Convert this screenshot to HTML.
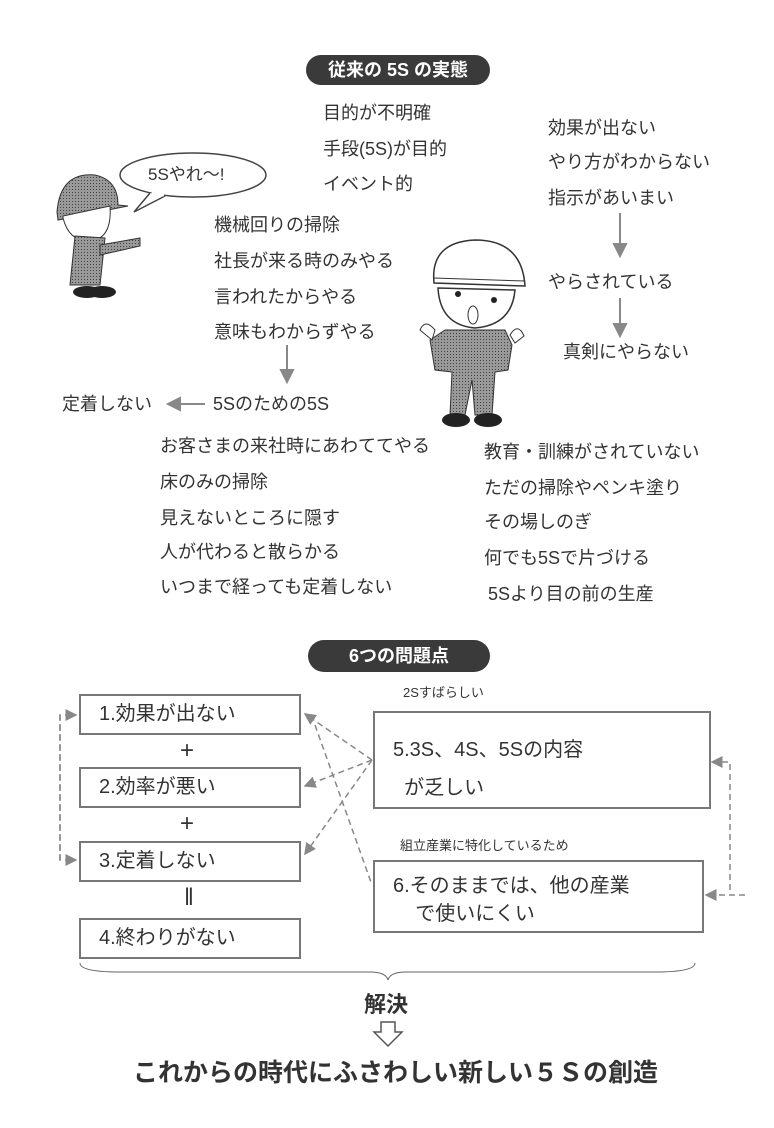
<!DOCTYPE html>
<html><head><meta charset="utf-8"><style>
body{margin:0;width:774px;height:1128px;background:#fff;position:relative;overflow:hidden;font-family:"Liberation Sans","Noto Sans CJK JP",sans-serif;color:#333}
.t{position:absolute;font-size:18px;white-space:nowrap;line-height:1}
.pill{position:absolute;background:#3a3a3a;color:#fff;border-radius:16px;text-align:center;font-size:18px;font-weight:bold}
.box{position:absolute;border:2px solid #777;box-sizing:border-box;font-size:20px}
.s{position:absolute;font-size:13px;white-space:nowrap}
</style></head><body>
<svg width="774" height="1128" style="position:absolute;left:0;top:0">
<defs><marker id="a" markerWidth="8" markerHeight="8" refX="7" refY="4" orient="auto"><path d="M0,0L8,4L0,8z" fill="#888"/></marker>
<pattern id="g" width="3" height="3" patternUnits="userSpaceOnUse"><rect width="3" height="3" fill="#999"/><rect width="1" height="1" fill="#444"/></pattern></defs>
<g stroke="#888" stroke-width="2" fill="#888">
<line x1="620" y1="213" x2="620" y2="246"/><path d="M614,244L626,244L620,256z"/>
<line x1="620" y1="298" x2="620" y2="326"/><path d="M614,324L626,324L620,336z"/>
<line x1="287" y1="345" x2="287" y2="372"/><path d="M281,370L293,370L287,382z"/>
<line x1="205" y1="404" x2="178" y2="404"/><path d="M180,398L180,410L168,404z"/>
</g>
<!-- left person -->
<ellipse cx="193" cy="175" rx="73" ry="22" fill="#fff" stroke="#444" stroke-width="1.5"/>
<path d="M150,193 L134,212 L165,196" fill="#fff" stroke="#444" stroke-width="1.5"/>
<path d="M152,192 L164,195" stroke="#fff" stroke-width="3"/>
<path d="M57,212 Q60,172 95,175 Q118,180 118,205 L128,206 L58,220z" fill="url(#g)" stroke="#333"/>
<path d="M63,218 Q70,245 95,240 Q112,235 110,206 L63,216z" fill="#fff" stroke="#333"/>
<path d="M75,236 L70,285 L100,285 L105,238z" fill="url(#g)" stroke="#333"/>
<path d="M100,245 L140,238 L140,246 L100,255z" fill="url(#g)" stroke="#333"/>
<ellipse cx="87" cy="292" rx="14" ry="6" fill="#222"/><ellipse cx="102" cy="292" rx="14" ry="6" fill="#222"/>
<!-- right person -->
<path d="M434,283 Q430,242 475,240 Q522,240 525,286z" fill="#fff" stroke="#333" stroke-width="1.5"/>
<line x1="434" y1="278" x2="525" y2="281" stroke="#333"/>
<path d="M438,288 Q440,325 475,328 Q512,325 515,290z" fill="#fff" stroke="#333" stroke-width="1.5"/>
<circle cx="458" cy="294" r="3" fill="#222"/><circle cx="494" cy="300" r="3" fill="#222"/>
<ellipse cx="473" cy="315" rx="5" ry="9" fill="#fff" stroke="#333"/>
<path d="M430,340 L445,330 L505,330 L512,345 L508,370 L495,372 L492,415 L475,415 L472,380 L465,415 L450,415 L452,372 L435,370z" fill="url(#g)" stroke="#333"/>
<path d="M420,330 Q425,318 435,330 L432,340z M510,335 Q518,322 524,336 L515,343z" fill="#fff" stroke="#333"/>
<ellipse cx="456" cy="420" rx="14" ry="7" fill="#222"/><ellipse cx="488" cy="420" rx="14" ry="7" fill="#222"/>
<g stroke="#888" stroke-width="1.5" fill="none" stroke-dasharray="6,4">
<path d="M60,860 L60,715 L76,715" marker-end="url(#a)"/>
<path d="M60,715 L60,860 L76,860" marker-end="url(#a)"/>
<line x1="372" y1="760" x2="305" y2="714" marker-end="url(#a)"/>
<line x1="372" y1="760" x2="305" y2="786" marker-end="url(#a)"/>
<line x1="372" y1="760" x2="305" y2="854" marker-end="url(#a)"/>
<line x1="315" y1="725" x2="372" y2="885"/>
<path d="M730,890 L730,762 L712,762" marker-end="url(#a)"/>
<path d="M745,895 L706,895" marker-end="url(#a)"/>
</g>
<path d="M80,963 Q80,972 120,972 L370,972 Q386,972 388,980 Q390,972 406,972 L655,972 Q695,972 695,963" fill="none" stroke="#666" stroke-width="1"/>
<path d="M381,1022 L395,1022 L395,1032 L402,1032 L388,1046 L374,1032 L381,1032z" fill="#fff" stroke="#555" stroke-width="1.5"/>
</svg>
<div class="t" style="left:148px;top:166px;font-size:17px">5Sやれ〜!</div>
<div class="pill" style="left:306px;top:55px;width:184px;height:30px;line-height:30px">従来の 5S の実態</div>
<div class="t" style="left:323px;top:104px">目的が不明確</div>
<div class="t" style="left:323px;top:140px">手段(5S)が目的</div>
<div class="t" style="left:323px;top:175px">イベント的</div>
<div class="t" style="left:548px;top:119px">効果が出ない</div>
<div class="t" style="left:548px;top:153px">やり方がわからない</div>
<div class="t" style="left:548px;top:189px">指示があいまい</div>
<div class="t" style="left:548px;top:273px">やらされている</div>
<div class="t" style="left:563px;top:343px">真剣にやらない</div>
<div class="t" style="left:214px;top:216px">機械回りの掃除</div>
<div class="t" style="left:214px;top:252px">社長が来る時のみやる</div>
<div class="t" style="left:214px;top:288px">言われたからやる</div>
<div class="t" style="left:214px;top:323px">意味もわからずやる</div>
<div class="t" style="left:62px;top:395px">定着しない</div>
<div class="t" style="left:213px;top:395px">5Sのための5S</div>
<div class="t" style="left:160px;top:437px">お客さまの来社時にあわててやる</div>
<div class="t" style="left:160px;top:473px">床のみの掃除</div>
<div class="t" style="left:160px;top:509px">見えないところに隠す</div>
<div class="t" style="left:160px;top:543px">人が代わると散らかる</div>
<div class="t" style="left:160px;top:578px">いつまで経っても定着しない</div>
<div class="t" style="left:484px;top:443px">教育・訓練がされていない</div>
<div class="t" style="left:484px;top:479px">ただの掃除やペンキ塗り</div>
<div class="t" style="left:484px;top:513px">その場しのぎ</div>
<div class="t" style="left:484px;top:549px">何でも5Sで片づける</div>
<div class="t" style="left:488px;top:585px">5Sより目の前の生産</div>
<div class="pill" style="left:308px;top:640px;width:182px;height:32px;line-height:32px">6つの問題点</div>
<div class="s" style="left:403px;top:682px">2Sすばらしい</div>
<div class="s" style="left:400px;top:835px">組立産業に特化しているため</div>
<div class="box" style="left:79px;top:694px;width:222px;height:41px;line-height:37px;padding-left:18px">1.効果が出ない</div>
<div class="box" style="left:79px;top:767px;width:222px;height:41px;line-height:37px;padding-left:18px">2.効率が悪い</div>
<div class="box" style="left:79px;top:841px;width:222px;height:41px;line-height:37px;padding-left:18px">3.定着しない</div>
<div class="box" style="left:79px;top:918px;width:222px;height:41px;line-height:37px;padding-left:18px">4.終わりがない</div>
<div class="t" style="left:180px;top:739px;font-size:24px">+</div>
<div class="t" style="left:180px;top:812px;font-size:24px">+</div>
<div class="t" style="left:184px;top:886px;font-size:24px">‖</div>
<div class="box" style="left:373px;top:711px;width:338px;height:98px;padding:18px 0 0 18px;line-height:38px">5.3S、4S、5Sの内容<br>&nbsp;&nbsp;が乏しい</div>
<div class="box" style="left:373px;top:860px;width:331px;height:73px;padding:10px 0 0 18px;line-height:28px">6.そのままでは、他の産業<br>&nbsp;&nbsp;&nbsp;&nbsp;で使いにくい</div>
<div class="t" style="left:364px;top:994px;font-size:22px;font-weight:bold">解決</div>
<div class="t" style="left:133px;top:1061px;font-size:25px;font-weight:bold">これからの時代にふさわしい新しい５Ｓの創造</div>
</body></html>
